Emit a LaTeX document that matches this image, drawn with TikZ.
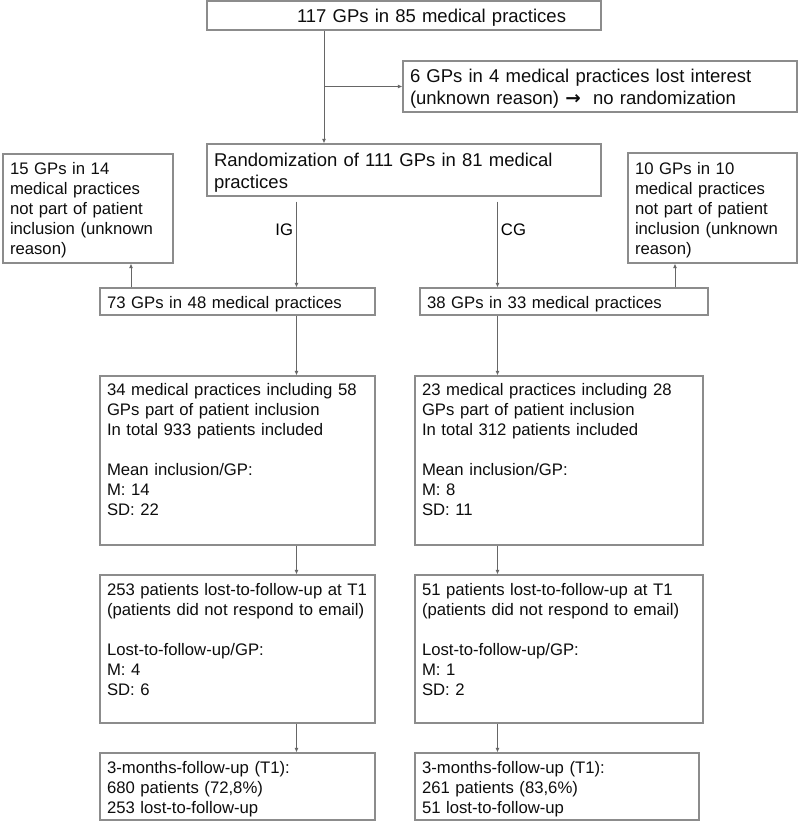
\documentclass[tikz,border=0pt]{standalone}
\usepackage{fontspec}
\setmainfont{Liberation Sans}
\newfontfamily\arrowfont{DejaVu Sans}
\usepackage{tikz}
\usetikzlibrary{positioning,arrows.meta}

\begin{document}
\begin{tikzpicture}[x=1pt,y=-1pt,
    bigbox/.style={draw=black!45, line width=1.1pt, inner xsep=7pt, inner ysep=0pt,
      align=left, text=black!95, font=\fontsize{18.5pt}{22pt}\selectfont, text height=21pt},
    smallbox/.style={draw=black!45, line width=1.1pt, inner xsep=7pt, inner ysep=0pt,
      align=left, text=black!95, font=\fontsize{16.7pt}{20pt}\selectfont, text height=20pt},
    link/.style={draw=black!60, line width=0.9pt, -{Latex[length=4.5pt,width=4pt]}}]
  \useasboundingbox (0,0) rectangle (800,823);
  \coordinate (spine) at (324,0);
  \coordinate (igx) at (296.5,0);
  \coordinate (cgx) at (497.5,0);
  \coordinate (lx) at (131,0);
  \coordinate (rx) at (675,0);

  \node [bigbox, text width=380pt, text depth=8pt] (top) at (404,15.5)
    {\hspace*{83pt}117 GPs in 85 medical practices};
  \node [bigbox, text width=380pt, text depth=30pt, on grid, below right=71pt and 196pt of top] (lost)
    {6 GPs in 4 medical practices lost interest\\(unknown reason) {\arrowfont\bfseries →}\ \ no randomization};
  \node [bigbox, text width=380pt, text height=22pt, text depth=30pt, on grid, below=154.5pt of top] (rand)
    {Randomization of 111 GPs in 81 medical\\practices};
  \node [smallbox, text width=156pt, text depth=89pt, on grid, below left=38.5pt and 316pt of rand] (sideL)
    {15 GPs in 14\\medical practices\\not part of patient\\inclusion (unknown\\reason)};
  \node [smallbox, text width=155pt, text height=21pt, text depth=89pt, on grid, below right=38pt and 308.5pt of rand] (sideR)
    {10 GPs in 10\\medical practices\\not part of patient\\inclusion (unknown\\reason)};
  \node [smallbox, text width=261pt, text depth=7pt, on grid, below left=131.5pt and 166.5pt of rand] (ig)
    {73 GPs in 48 medical practices};
  \node [smallbox, text width=274pt, text depth=7pt, on grid, below right=131.5pt and 160pt of rand] (cg)
    {38 GPs in 33 medical practices};
  \node [smallbox, text width=261pt, text height=19pt, text depth=150pt, on grid, below=159pt of ig] (inclL)
    {34 medical practices including 58\\GPs part of patient inclusion\\In total 933 patients included\\[20pt]Mean inclusion/GP:\\M: 14\\SD: 22};
  \node [smallbox, text width=274pt, text height=19pt, text depth=150pt, on grid, right=321.5pt of inclL] (inclR)
    {23 medical practices including 28\\GPs part of patient inclusion\\In total 312 patients included\\[20pt]Mean inclusion/GP:\\M: 8\\SD: 11};
  \node [smallbox, text width=261pt, text depth=128pt, on grid, below=188.5pt of inclL] (lossL)
    {253 patients lost-to-follow-up at T1\\(patients did not respond to email)\\[20pt]Lost-to-follow-up/GP:\\M: 4\\SD: 6};
  \node [smallbox, text width=274pt, text depth=128pt, on grid, right=321.5pt of lossL] (lossR)
    {51 patients lost-to-follow-up at T1\\(patients did not respond to email)\\[20pt]Lost-to-follow-up/GP:\\M: 1\\SD: 2};
  \node [smallbox, text width=261pt, text depth=47pt, on grid, below=137.5pt of lossL] (fuL)
    {3-months-follow-up (T1):\\680 patients (72,8\%)\\253 lost-to-follow-up};
  \node [smallbox, text width=270pt, text depth=47pt, on grid, right=319.5pt of fuL] (fuR)
    {3-months-follow-up (T1):\\261 patients (83,6\%)\\51 lost-to-follow-up};

  \draw [link] (spine |- top.south) -- (spine |- rand.north);
  \draw [link] (spine |- lost.west) -- (lost.west);
  \draw [link, shorten <=5pt] (igx |- rand.south) -- node [left, pos=0.37, inner sep=3pt, font=\fontsize{16.7pt}{20pt}\selectfont] (iglab) {IG} (igx |- ig.north);
  \draw [link, shorten <=5pt] (cgx |- rand.south) -- node [right, pos=0.37, inner sep=3pt, font=\fontsize{16.7pt}{20pt}\selectfont] (cglab) {CG} (cgx |- cg.north);
  \draw [link] (lx |- ig.north) -- (lx |- sideL.south);
  \draw [link] (rx |- cg.north) -- (rx |- sideR.south);
  \draw [link] (igx |- ig.south) -- (igx |- inclL.north);
  \draw [link] (cgx |- cg.south) -- (cgx |- inclR.north);
  \draw [link] (igx |- inclL.south) -- (igx |- lossL.north);
  \draw [link] (cgx |- inclR.south) -- (cgx |- lossR.north);
  \draw [link] (igx |- lossL.south) -- (igx |- fuL.north);
  \draw [link] (cgx |- lossR.south) -- (cgx |- fuR.north);
\end{tikzpicture}
\end{document}
